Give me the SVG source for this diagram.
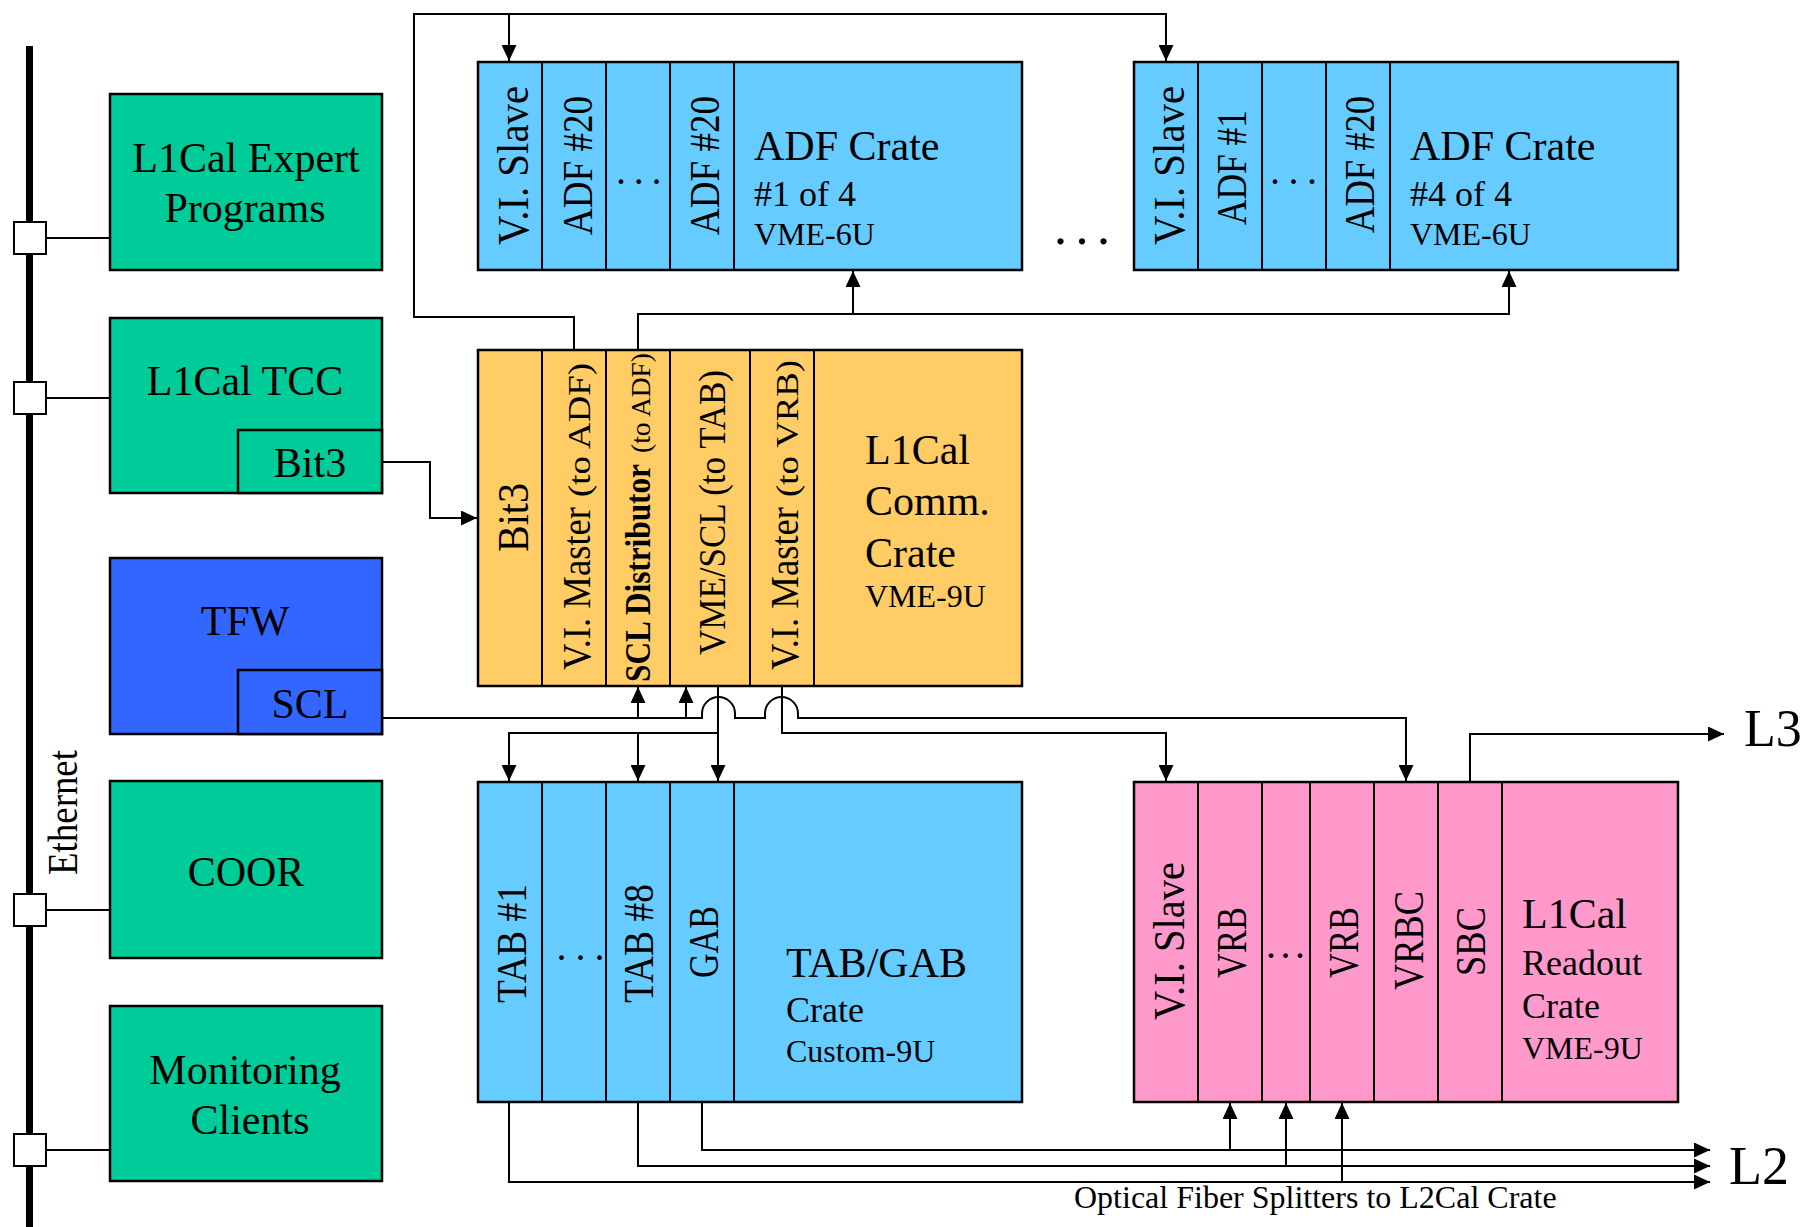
<svg xmlns="http://www.w3.org/2000/svg" width="1804" height="1227" viewBox="0 0 1804 1227">
<defs>
<marker id="ah" markerUnits="userSpaceOnUse" markerWidth="16" markerHeight="15" refX="16" refY="7.5" orient="auto">
<path d="M0,0 L16,7.5 L0,15 z" fill="#000"/>
</marker>
<style>
text{font-family:"Liberation Serif","Times New Roman",serif;fill:#000}
.box{stroke:#000;stroke-width:2.5}
.g{fill:#00CC99}.b{fill:#3366FF}.lb{fill:#66CCFF}.o{fill:#FFCC66}.p{fill:#FF99CC}
.div{stroke:#000;stroke-width:2;fill:none}
.c{stroke:#000;stroke-width:2;fill:none}
.ca{stroke:#000;stroke-width:2;fill:none;marker-end:url(#ah)}
.sq{fill:#fff;stroke:#000;stroke-width:2}
.t42{font-size:42px}.t36{font-size:36px}.t32{font-size:32px}
.mid{text-anchor:middle}
</style>
</defs>
<rect width="1804" height="1227" fill="#fff"/>

<g id="ethernet">
<rect x="26" y="46" width="7" height="1181" fill="#000"/>
<rect class="sq" x="14" y="222" width="32" height="32"/>
<rect class="sq" x="14" y="382" width="32" height="32"/>
<rect class="sq" x="14" y="894" width="32" height="32"/>
<rect class="sq" x="14" y="1134" width="32" height="32"/>
<text transform="translate(77,875) rotate(-90)" font-size="42" textLength="125" lengthAdjust="spacingAndGlyphs">Ethernet</text>
</g>

<g id="expert">
<rect class="box g" x="110" y="94" width="272" height="176"/>
<text class="t42 mid" x="246" y="172">L1Cal Expert</text>
<text class="t42 mid" x="245" y="222">Programs</text>
</g>

<g id="tcc">
<rect class="box g" x="110" y="318" width="272" height="175"/>
<rect class="box g" x="238" y="430" width="144" height="63"/>
<text class="t42 mid" x="245" y="395">L1Cal TCC</text>
<text class="t42 mid" x="310" y="477">Bit3</text>
</g>

<g id="tfw">
<rect class="box b" x="110" y="558" width="272" height="176"/>
<rect class="box b" x="238" y="670" width="144" height="64"/>
<text class="t42 mid" x="245" y="635">TFW</text>
<text class="t42 mid" x="310" y="718">SCL</text>
</g>

<g id="coor">
<rect class="box g" x="110" y="781" width="272" height="177"/>
<text class="t42 mid" x="246" y="886">COOR</text>
</g>

<g id="monitoring">
<rect class="box g" x="110" y="1006" width="272" height="175"/>
<text class="t42 mid" x="245" y="1084">Monitoring</text>
<text class="t42 mid" x="250" y="1134">Clients</text>
</g>

<g id="adf1">
<rect class="box lb" x="478" y="62" width="544" height="208"/>
<path class="div" d="M542 62V270M606 62V270M670 62V270M734 62V270"/>
<text transform="translate(528,245) rotate(-90)" font-size="44" textLength="159" lengthAdjust="spacingAndGlyphs">V.I. Slave</text>
<text transform="translate(592,235) rotate(-90)" font-size="42" textLength="139" lengthAdjust="spacingAndGlyphs">ADF #20</text>
<text x="616" y="184" font-size="40" letter-spacing="7.8">...</text>
<text transform="translate(719,235) rotate(-90)" font-size="42" textLength="139" lengthAdjust="spacingAndGlyphs">ADF #20</text>
<text class="t42" x="754" y="160">ADF Crate</text>
<text class="t36" x="754" y="206">#1 of 4</text>
<text class="t32" x="754" y="245">VME-6U</text>
</g>

<text x="1054" y="244" font-size="52" letter-spacing="8.5">...</text>

<g id="adf4">
<rect class="box lb" x="1134" y="62" width="544" height="208"/>
<path class="div" d="M1198 62V270M1262 62V270M1326 62V270M1390 62V270"/>
<text transform="translate(1184,245) rotate(-90)" font-size="44" textLength="159" lengthAdjust="spacingAndGlyphs">V.I. Slave</text>
<text transform="translate(1246,225) rotate(-90)" font-size="42" textLength="115" lengthAdjust="spacingAndGlyphs">ADF #1</text>
<text x="1270" y="184" font-size="40" letter-spacing="8.5">...</text>
<text transform="translate(1374,233) rotate(-90)" font-size="42" textLength="137" lengthAdjust="spacingAndGlyphs">ADF #20</text>
<text class="t42" x="1410" y="160">ADF Crate</text>
<text class="t36" x="1410" y="206">#4 of 4</text>
<text class="t32" x="1410" y="245">VME-6U</text>
</g>

<g id="comm">
<rect class="box o" x="478" y="350" width="544" height="336"/>
<path class="div" d="M542 350V686M606 350V686M670 350V686M750 350V686M814 350V686"/>
<text transform="translate(528,552) rotate(-90)" font-size="45" textLength="69" lengthAdjust="spacingAndGlyphs">Bit3</text>
<text transform="translate(590,670) rotate(-90)" font-size="40" textLength="163" lengthAdjust="spacingAndGlyphs">V.I. Master</text>
<text transform="translate(590,497) rotate(-90)" font-size="32" textLength="134" lengthAdjust="spacingAndGlyphs">(to ADF)</text>
<text transform="translate(650,682) rotate(-90)" font-size="35" font-weight="bold" textLength="218" lengthAdjust="spacingAndGlyphs">SCL Distributor</text>
<text transform="translate(650,453) rotate(-90)" font-size="27" textLength="100" lengthAdjust="spacingAndGlyphs">(to ADF)</text>
<text transform="translate(725,655) rotate(-90)" font-size="37" textLength="285" lengthAdjust="spacingAndGlyphs">VME/SCL (to TAB)</text>
<text transform="translate(798,670) rotate(-90)" font-size="40" textLength="163" lengthAdjust="spacingAndGlyphs">V.I. Master</text>
<text transform="translate(798,497) rotate(-90)" font-size="32" textLength="137" lengthAdjust="spacingAndGlyphs">(to VRB)</text>
<text class="t42" x="865" y="464">L1Cal</text>
<text class="t42" x="865" y="515">Comm.</text>
<text class="t42" x="865" y="567">Crate</text>
<text class="t32" x="865" y="607">VME-9U</text>
</g>

<g id="tabgab">
<rect class="box lb" x="478" y="782" width="544" height="320"/>
<path class="div" d="M542 782V1102M606 782V1102M670 782V1102M734 782V1102"/>
<text transform="translate(526,1003) rotate(-90)" font-size="42" textLength="119" lengthAdjust="spacingAndGlyphs">TAB #1</text>
<text x="556.6" y="960" font-size="40" letter-spacing="9">...</text>
<text transform="translate(653,1003) rotate(-90)" font-size="42" textLength="119" lengthAdjust="spacingAndGlyphs">TAB #8</text>
<text transform="translate(718,978) rotate(-90)" font-size="43" textLength="72" lengthAdjust="spacingAndGlyphs">GAB</text>
<text class="t42" x="786" y="977">TAB/GAB</text>
<text class="t36" x="786" y="1022">Crate</text>
<text class="t32" x="786" y="1062">Custom-9U</text>
</g>

<g id="readout">
<rect class="box p" x="1134" y="782" width="544" height="320"/>
<path class="div" d="M1198 782V1102M1262 782V1102M1310 782V1102M1374 782V1102M1438 782V1102M1502 782V1102"/>
<text transform="translate(1184,1020) rotate(-90)" font-size="44" textLength="158" lengthAdjust="spacingAndGlyphs">V.I. Slave</text>
<text transform="translate(1246,978) rotate(-90)" font-size="43" textLength="71" lengthAdjust="spacingAndGlyphs">VRB</text>
<text x="1266" y="958" font-size="40" letter-spacing="4.5">...</text>
<text transform="translate(1358,978) rotate(-90)" font-size="43" textLength="71" lengthAdjust="spacingAndGlyphs">VRB</text>
<text transform="translate(1423,990) rotate(-90)" font-size="43" textLength="99" lengthAdjust="spacingAndGlyphs">VRBC</text>
<text transform="translate(1485,976) rotate(-90)" font-size="43" textLength="69" lengthAdjust="spacingAndGlyphs">SBC</text>
<text class="t42" x="1522" y="928">L1Cal</text>
<text class="t36" x="1522" y="975">Readout</text>
<text class="t36" x="1522" y="1018">Crate</text>
<text class="t32" x="1522" y="1059">VME-9U</text>
</g>

<g id="connectors">
<path class="c" d="M46 238H110M46 398H110M46 910H110M46 1150H110"/>
<path class="ca" d="M574 350V317H414V14H1166V61"/>
<path class="ca" d="M509 14V61"/>
<path class="ca" d="M638 350V314H1509V271"/>
<path class="ca" d="M853 314V271"/>
<path class="ca" d="M382 462H430V518H477"/>
<path class="ca" d="M382 718H702V713.5A16.5 16.5 0 0 1 735 713.5V718H765V713.5A16.5 16.5 0 0 1 798 713.5V718H1406V781"/>
<path class="ca" d="M638 718V687"/>
<path class="ca" d="M686 718V687"/>
<path class="ca" d="M718 686V781"/>
<path class="ca" d="M718 733H509V781"/>
<path class="ca" d="M638 733V781"/>
<path class="ca" d="M782 686V733H1166V781"/>
<path class="ca" d="M1470 782V734H1724"/>
<path class="ca" d="M702 1102V1150H1710"/>
<path class="ca" d="M638 1102V1166H1710"/>
<path class="ca" d="M509 1102V1182H1710"/>
<path class="ca" d="M1230 1150V1103"/>
<path class="ca" d="M1286 1166V1103"/>
<path class="ca" d="M1342 1182V1103"/>
</g>

<g id="labels">
<text x="1744" y="746" font-size="52">L3</text>
<text x="1729" y="1184" font-size="54">L2</text>
<text x="1074" y="1208" font-size="32">Optical Fiber Splitters to L2Cal Crate</text>
</g>
</svg>
